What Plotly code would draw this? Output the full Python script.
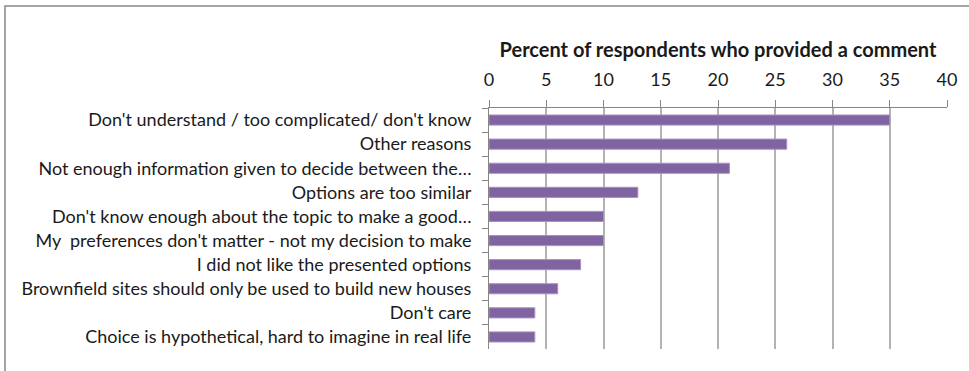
import plotly.graph_objects as go

# Reasons given, top to bottom, with the share of respondents citing each
reasons = [
    "Don't understand / too complicated/ don't know",
    "Other reasons",
    "Not enough information given to decide between the…",
    "Options are too similar",
    "Don't know enough about the topic to make a good…",
    "My  preferences don't matter - not my decision to make",
    "I did not like the presented options",
    "Brownfield sites should only be used to build new houses",
    "Don't care",
    "Choice is hypothetical, hard to imagine in real life",
]
percent = [35, 26, 21, 13, 10, 10, 8, 6, 4, 4]
x_ticks = [0, 5, 10, 15, 20, 25, 30, 35, 40]

FONT = "Lato"
BAR = "#8064A2"

fig = go.Figure(
    go.Bar(
        x=percent,
        y=reasons,
        orientation="h",
        marker=dict(color=BAR, line=dict(color="#a592c0", width=1)),
        width=0.42,
    )
)

fig.update_layout(
    width=969,
    height=371,
    margin=dict(l=489, r=22, t=108, b=22),
    paper_bgcolor="white",
    plot_bgcolor="white",
    showlegend=False,
    font=dict(family=FONT, color="#1a1a1a", size=18),
    xaxis=dict(
        side="top",
        range=[0, 40],
        tickvals=x_ticks,
        ticktext=[str(v) for v in x_ticks],
        tickfont=dict(size=18, family=FONT),
        ticks="outside",
        ticklen=7,
        tickcolor="#868686",
        ticklabelstandoff=7,
        showline=True,
        linecolor="#868686",
        linewidth=1,
        showgrid=True,
        gridcolor="#b3b3b3",
        gridwidth=1.5,
        zeroline=False,
        title=dict(
            text="<b>Percent of respondents who provided a comment</b>",
            font=dict(size=20, family=FONT),
            standoff=4,
        ),
    ),
    yaxis=dict(
        autorange="reversed",
        type="category",
        tickson="boundaries",
        ticks="outside",
        ticklen=6,
        tickcolor="#868686",
        showline=True,
        linecolor="#868686",
        linewidth=1,
        showgrid=False,
        zeroline=False,
        tickfont=dict(size=18, family=FONT),
        ticklabelstandoff=13,
    ),
)

# Outer chart frame
fig.add_shape(
    type="rect",
    xref="paper",
    yref="paper",
    x0=(5 - 489) / 458,
    x1=(975 - 489) / 458,
    y0=(349 - 375) / 241,
    y1=(349 - 6) / 241,
    line=dict(color="#888888", width=1.5),
    fillcolor="rgba(0,0,0,0)",
    layer="below",
)

fig.write_html("out.html")
